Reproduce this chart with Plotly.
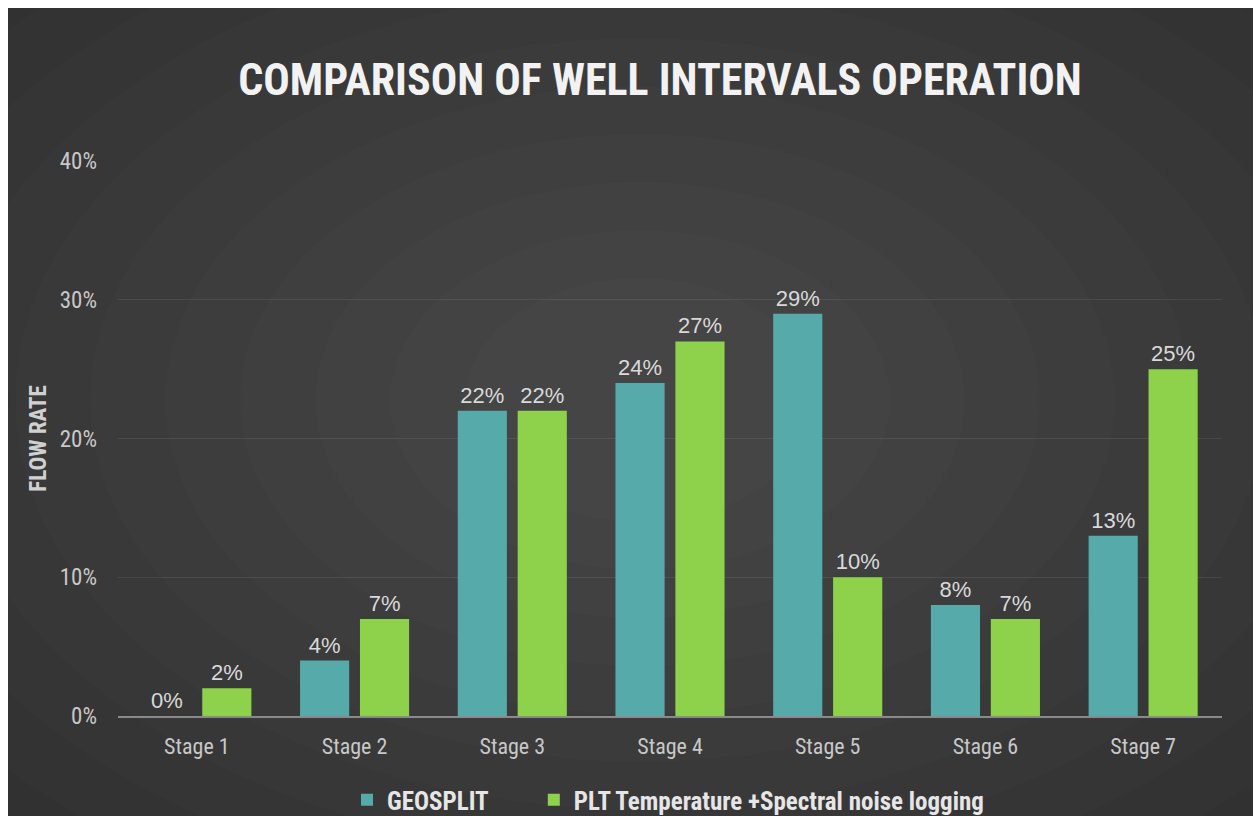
import plotly.graph_objects as go

stages = ["Stage 1", "Stage 2", "Stage 3", "Stage 4", "Stage 5", "Stage 6", "Stage 7"]
geosplit = [0, 4, 22, 24, 29, 8, 13]
plt_noise = [2, 7, 22, 27, 10, 7, 25]
series_names = ["GEOSPLIT", "PLT Temperature +Spectral noise logging"]
y_ticks = [0, 10, 20, 30, 40]
y_tick_labels = ["0%", "10%", "20%", "30%", "40%"]

NARROW = "Liberation Sans Narrow, Arial Narrow, Roboto Condensed, Liberation Sans, sans-serif"
W, H = 1253, 816
ML, MR, MT, MB = 118, 31, 161, 100
pw, ph = W - ML - MR, H - MT - MB

def px_x(x):
    return (x - ML) / pw

def px_y(y):
    return (H - MB - y) / ph

legend_labels = ["<b>" + series_names[0] + "</b>" + "&nbsp;" * 7,
                 "<b>" + series_names[1] + "</b>"]

fig = go.Figure()
for vals, name, color in [(geosplit, legend_labels[0], "#56aaaa"),
                          (plt_noise, legend_labels[1], "#8ed24c")]:
    fig.add_trace(go.Bar(
        x=stages, y=vals, name=name,
        marker=dict(color=color, line=dict(width=0)),
        text=[f"{v}%" for v in vals], textposition="outside", cliponaxis=False,
        constraintext="none",
        textfont=dict(color="#d9d9d9", size=22, family="Liberation Sans, Arial, sans-serif"),
    ))

shapes = [dict(type="rect", xref="paper", yref="paper", layer="below",
               x0=px_x(8), x1=px_x(W), y0=px_y(H), y1=px_y(8),
               fillcolor="#2d2d2d", line=dict(width=0))]
cx, cy = 640, 400
for i in range(12):
    rx = 1000 - i * 75
    ry = 650 - i * 48
    shapes.append(dict(type="circle", xref="paper", yref="paper", layer="below",
                       x0=px_x(cx - rx), x1=px_x(cx + rx), y0=px_y(cy + ry), y1=px_y(cy - ry),
                       fillcolor="rgba(255,255,255,0.012)", line=dict(width=0)))

fig.update_layout(
    width=W, height=H,
    margin=dict(l=ML, r=MR, t=MT, b=MB, autoexpand=False),
    paper_bgcolor="white",
    plot_bgcolor="rgba(0,0,0,0)",
    barmode="group", bargap=0.24, bargroupgap=0.18,
    shapes=shapes,
    title=dict(text="<b>COMPARISON OF WELL INTERVALS OPERATION</b>",
               x=px_x(660), xref="paper", xanchor="center",
               y=1 - 80 / H, yanchor="middle",
               font=dict(family=NARROW, size=44, color="#f2f2f2")),
    xaxis=dict(showgrid=False, showline=True, linecolor="#8a8a8a", linewidth=2,
               ticks="", ticklabelstandoff=10,
               tickfont=dict(family=NARROW, size=22, color="#c8c8c8"),
               zeroline=False),
    yaxis=dict(range=[0, 40], tickvals=y_ticks, ticktext=y_tick_labels,
               showgrid=True, gridcolor="rgba(255,255,255,0.08)", gridwidth=1,
               zeroline=False, showline=False, ticks="", ticklabelstandoff=20,
               tickfont=dict(family=NARROW, size=23, color="#c8c8c8"),
               title=dict(text="<b>FLOW RATE</b>", standoff=6,
                          font=dict(family=NARROW, size=23, color="#d0d0d0"))),
    legend=dict(orientation="h", x=px_x(668), xanchor="center", y=px_y(800), yanchor="middle",
                font=dict(family=NARROW, size=25, color="#e6e6e6"),
                itemwidth=30, tracegroupgap=0, bgcolor="rgba(0,0,0,0)"),
    showlegend=True,
)

fig.write_html("out.html")
